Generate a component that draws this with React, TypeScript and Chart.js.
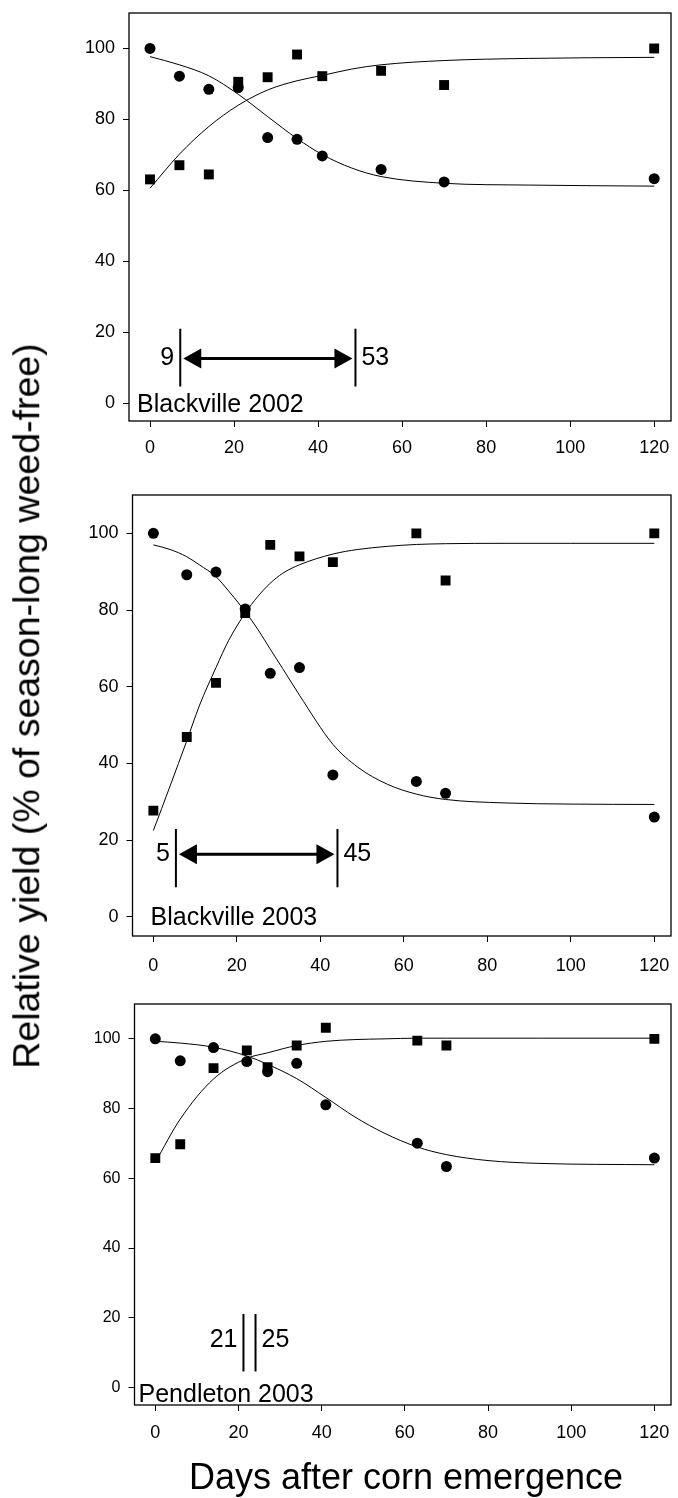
import React, { useEffect, useRef } from "react";
import { Chart, registerables } from "chart.js";

Chart.register(...registerables);

const FONT = "'Liberation Sans', Arial, Helvetica, sans-serif";

// Tick labels
const xTicks = [0, 20, 40, 60, 80, 100, 120];
const yTicks = [0, 20, 40, 60, 80, 100];

// Blackville 2002
const days1 = [0, 7, 14, 21, 28, 35, 41, 55, 70, 120];
const circles1 = [100, 92.2, 88.5, 89.0, 74.9, 74.4, 69.7, 65.9, 62.4, 63.3];
const squares1 = [63.1, 67.1, 64.5, 90.6, 91.9, 98.3, 92.2, 93.7, 89.7, 100];
const curveX1 = [0, 7, 14, 21, 28, 35, 41, 48, 55, 70, 90, 120];
const decline1 = [97.7, 95.4, 92.3, 87.1, 80.8, 74.6, 70.1, 66.3, 63.9, 62.0, 61.5, 61.2];
const rise1 = [60.6, 70.2, 78.0, 84.0, 88.3, 90.9, 92.4, 94.2, 95.4, 96.6, 97.2, 97.5];
const cpd1 = [7.2, 48.9];
const cpdLabels1 = ["9", "53"];

// Blackville 2003
const days2 = [0, 8, 15, 22, 28, 35, 43, 63, 70, 120];
const circles2 = [100, 89.2, 89.9, 80.3, 63.5, 65.0, 37.0, 35.3, 32.2, 26.0];
const squares2 = [27.7, 46.9, 61.0, 79.2, 97.0, 94.0, 92.5, 100, 87.7, 100];
const curveX2 = [0, 4, 8, 11, 15, 18, 22, 25, 28, 31, 35, 43, 49, 56, 63, 70, 84, 100, 120];
const decline2 = [97.0, 95.8, 93.9, 91.8, 88.7, 85.0, 79.6, 75.0, 69.8, 64.7, 57.8, 45.0, 39.0, 34.6, 32.0, 30.6, 29.7, 29.4, 29.3];
const rise2 = [22.5, 34.1, 45.9, 55.0, 65.0, 72.0, 79.2, 83.5, 87.0, 89.6, 91.8, 94.6, 95.8, 96.6, 97.1, 97.3, 97.4, 97.4, 97.4];
const cpd2 = [5.4, 44.1];
const cpdLabels2 = ["5", "45"];

// Pendleton 2003
const days3 = [0, 6, 14, 22, 27, 34, 41, 63, 70, 120];
const circles3 = [100, 93.7, 97.5, 93.5, 90.6, 93.0, 81.1, 70.1, 63.4, 65.8];
const squares3 = [65.8, 69.8, 91.6, 96.7, 91.9, 98.1, 103.2, 99.5, 98.1, 100];
const curveX3 = [0, 6, 14, 22, 27, 34, 41, 48, 55, 63, 70, 80, 92, 120];
const decline3 = [99.3, 98.8, 97.6, 95.1, 92.7, 88.6, 83.2, 77.6, 73.0, 69.0, 66.8, 65.1, 64.3, 63.9];
const rise3 = [64.6, 77.0, 88.5, 94.4, 96.0, 98.1, 99.3, 99.8, 100.0, 100.2, 100.2, 100.2, 100.2, 100.2];
const cpd3 = [21.2, 24.1];
const cpdLabels3 = ["21", "25"];

type PanelCfg = {
  key: string;
  top: number;
  height: number;
  padTop: number;
  yWidth: number;
  xHeight: number;
  yFont: number;
  xPad: number;
  days: number[];
  circles: number[];
  squares: number[];
  curveX: number[];
  decline: number[];
  rise: number[];
  cpd: number[];
  cpdLabels: string[];
  arrow: boolean;
  lineLo: number;
  lineHi: number;
  arrowY: number;
  label: string;
  labelDx: number;
  labelDy: number;
};

const panels: PanelCfg[] = [
  {
    key: "p1", top: 0, height: 470, padTop: 13, yWidth: 129, xHeight: 49, yFont: 18, xPad: 10,
    days: days1, circles: circles1, squares: squares1, curveX: curveX1, decline: decline1, rise: rise1,
    cpd: cpd1, cpdLabels: cpdLabels1, arrow: true, lineLo: 4.7, lineHi: 21.0, arrowY: 12.6,
    label: "Blackville 2002", labelDx: 8, labelDy: 9,
  },
  {
    key: "p2", top: 470, height: 520, padTop: 25, yWidth: 132.5, xHeight: 54, yFont: 18, xPad: 13.5,
    days: days2, circles: circles2, squares: squares2, curveX: curveX2, decline: decline2, rise: rise2,
    cpd: cpd2, cpdLabels: cpdLabels2, arrow: true, lineLo: 7.7, lineHi: 22.9, arrowY: 16.3,
    label: "Blackville 2003", labelDx: 18, labelDy: 11,
  },
  {
    key: "p3", top: 990, height: 508, padTop: 14, yWidth: 134.5, xHeight: 93, yFont: 16, xPad: 11.5,
    days: days3, circles: circles3, squares: squares3, curveX: curveX3, decline: decline3, rise: rise3,
    cpd: cpd3, cpdLabels: cpdLabels3, arrow: false, lineLo: 4.6, lineHi: 21.1, arrowY: 13.5,
    label: "Pendleton 2003", labelDx: 4, labelDy: 3.5,
  },
];

const annotPlugin = {
  id: "annot",
  afterDatasetsDraw(chart: any, _args: any, opts: any) {
    const p: PanelCfg = opts.panel;
    if (!p) return;
    const { ctx, chartArea: a } = chart;
    const xs = chart.scales.x;
    const ys = chart.scales.y;
    ctx.save();
    ctx.fillStyle = "#000";
    ctx.strokeStyle = "#000";
    const x0 = xs.getPixelForValue(p.cpd[0]);
    const x1 = xs.getPixelForValue(p.cpd[1]);
    const yTop = ys.getPixelForValue(p.lineHi);
    const yBot = ys.getPixelForValue(p.lineLo);
    ctx.lineWidth = 2;
    ctx.beginPath();
    ctx.moveTo(x0, yTop);
    ctx.lineTo(x0, yBot);
    ctx.moveTo(x1, yTop);
    ctx.lineTo(x1, yBot);
    ctx.stroke();
    const ya = ys.getPixelForValue(p.arrowY);
    if (p.arrow) {
      const head = 18, half = 10, gap = 3;
      ctx.lineWidth = 3;
      ctx.beginPath();
      ctx.moveTo(x0 + gap + head - 2, ya);
      ctx.lineTo(x1 - gap - head + 2, ya);
      ctx.stroke();
      ctx.beginPath();
      ctx.moveTo(x0 + gap, ya);
      ctx.lineTo(x0 + gap + head, ya - half);
      ctx.lineTo(x0 + gap + head, ya + half);
      ctx.closePath();
      ctx.fill();
      ctx.beginPath();
      ctx.moveTo(x1 - gap, ya);
      ctx.lineTo(x1 - gap - head, ya - half);
      ctx.lineTo(x1 - gap - head, ya + half);
      ctx.closePath();
      ctx.fill();
    }
    ctx.font = `25px ${FONT}`;
    ctx.textBaseline = "middle";
    ctx.textAlign = "right";
    ctx.fillText(p.cpdLabels[0], x0 - 6, ya);
    ctx.textAlign = "left";
    ctx.fillText(p.cpdLabels[1], x1 + 6, ya);
    ctx.textBaseline = "alphabetic";
    ctx.textAlign = "left";
    ctx.fillText(p.label, a.left + p.labelDx, a.bottom - p.labelDy);
    ctx.lineWidth = 1.3;
    ctx.strokeRect(a.left, a.top, a.right - a.left, a.bottom - a.top);
    ctx.restore();
  },
};

function Panel({ cfg }: { cfg: PanelCfg }) {
  const ref = useRef<HTMLCanvasElement | null>(null);
  useEffect(() => {
    if (!ref.current) return;
    const pts = (xs: number[], ys: number[]) => xs.map((x, i) => ({ x, y: ys[i] }));
    const tickGrid = { drawOnChartArea: false, drawTicks: true, tickLength: 6, color: "#000", lineWidth: 1 };
    const chart = new Chart(ref.current, {
      type: "line",
      data: {
        datasets: [
          {
            data: pts(cfg.curveX, cfg.decline), borderColor: "#000", borderWidth: 1, pointRadius: 0,
            cubicInterpolationMode: "monotone", fill: false,
          } as any,
          {
            data: pts(cfg.curveX, cfg.rise), borderColor: "#000", borderWidth: 1, pointRadius: 0,
            cubicInterpolationMode: "monotone", fill: false,
          } as any,
          {
            data: pts(cfg.days, cfg.circles), showLine: false, pointStyle: "circle", pointRadius: 5.5,
            backgroundColor: "#000", borderColor: "#000", borderWidth: 0,
          } as any,
          {
            data: pts(cfg.days, cfg.squares), showLine: false, pointStyle: "rect", pointRadius: 7,
            backgroundColor: "#000", borderColor: "#000", borderWidth: 0,
          } as any,
        ],
      },
      options: {
        animation: false,
        responsive: false,
        maintainAspectRatio: false,
        events: [],
        layout: { padding: { top: cfg.padTop, right: 1, left: 0, bottom: 0 } },
        plugins: {
          legend: { display: false },
          tooltip: { enabled: false },
          annot: { panel: cfg },
        } as any,
        scales: {
          x: {
            type: "linear",
            min: -5,
            max: 124,
            afterBuildTicks: (s: any) => { s.ticks = xTicks.map((v) => ({ value: v })); },
            afterFit: (s: any) => { s.height = cfg.xHeight; s.paddingLeft = 0; s.paddingRight = 0; },
            grid: tickGrid,
            border: { display: false },
            ticks: { color: "#000", font: { family: FONT, size: 18 }, padding: cfg.xPad, maxRotation: 0, autoSkip: false },
          },
          y: {
            type: "linear",
            min: -5,
            max: 110,
            afterBuildTicks: (s: any) => { s.ticks = yTicks.map((v) => ({ value: v })); },
            afterFit: (s: any) => { s.width = cfg.yWidth; s.paddingTop = 0; s.paddingBottom = 0; },
            grid: tickGrid,
            border: { display: false },
            ticks: { color: "#000", font: { family: FONT, size: cfg.yFont }, padding: 8, autoSkip: false },
          },
        } as any,
      },
      plugins: [annotPlugin],
    });
    return () => chart.destroy();
  }, [cfg]);
  return (
    <canvas
      ref={ref}
      width={678}
      height={cfg.height}
      style={{ position: "absolute", left: 0, top: cfg.top, width: 678, height: cfg.height, display: "block" }}
    />
  );
}

export default function App() {
  return (
    <div style={{ position: "absolute", left: 0, top: 0, width: 678, height: 1498, background: "#fff", overflow: "hidden" }}>
      {panels.map((p) => (
        <Panel key={p.key} cfg={p} />
      ))}
      <div style={{ position: "absolute", left: 27, top: 706, width: 0, height: 0 }}>
        <div
          style={{
            position: "absolute", left: 0, top: 0, whiteSpace: "nowrap", fontFamily: FONT, fontSize: 37.5,
            lineHeight: 1, color: "#000", transform: "translate(-50%, -50%) rotate(-90deg)",
          }}
        >
          Relative yield (% of season-long weed-free)
        </div>
      </div>
      <div style={{ position: "absolute", left: 406, top: 1459, width: 0, height: 0 }}>
        <div
          style={{
            position: "absolute", left: 0, top: 0, whiteSpace: "nowrap", fontFamily: FONT, fontSize: 36,
            lineHeight: 1, color: "#000", transform: "translateX(-50%)",
          }}
        >
          Days after corn emergence
        </div>
      </div>
    </div>
  );
}
